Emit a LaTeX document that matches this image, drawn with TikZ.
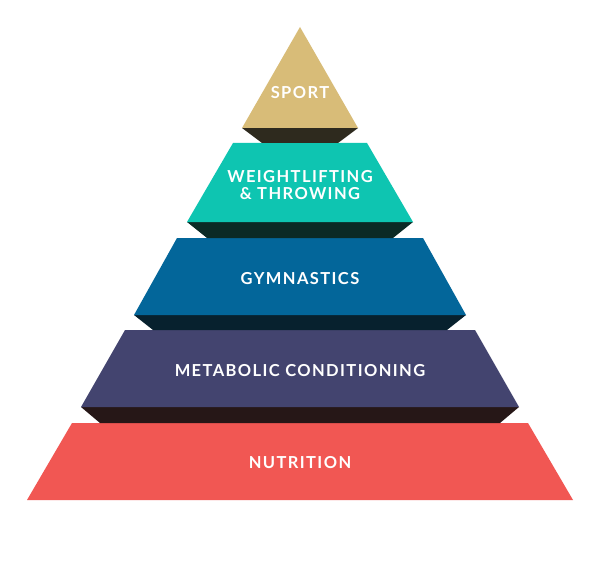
\documentclass[tikz,border=0pt]{standalone}
\usepackage{fontspec}
\setmainfont{Lato}
\newfontfamily\labfont[LetterSpace=8.5]{Lato}
\definecolor{gold}{HTML}{D8BC78}
\definecolor{goldshadow}{HTML}{2E2A1E}
\definecolor{teal}{HTML}{0EC5B1}
\definecolor{tealshadow}{HTML}{0B2A25}
\definecolor{blue}{HTML}{03669A}
\definecolor{blueshadow}{HTML}{07212E}
\definecolor{purple}{HTML}{43446F}
\definecolor{purpleshadow}{HTML}{261717}
\definecolor{red}{HTML}{F15753}
\begin{document}
\begin{tikzpicture}[x=1bp,y=-1bp,
  lab/.style={text=white,font=\labfont\bfseries\fontsize{16.5bp}{17bp}\selectfont,
    inner sep=0pt,anchor=base,align=center}]
\useasboundingbox (0,0) rectangle (600,577);
\fill[white] (0,0) rectangle (600,577);
% level 5: nutrition
\fill[red] (72,423) -- (528,423) -- (573,500) -- (27,500) -- cycle;
% level 4: metabolic conditioning
\fill[purpleshadow] (81,407) -- (519,407) -- (500,423) -- (100,423) -- cycle;
\fill[purple] (125,330) -- (475,330) -- (519,407) -- (81,407) -- cycle;
% level 3: gymnastics
\fill[blueshadow] (134,315) -- (466,315) -- (447,330) -- (153,330) -- cycle;
\fill[blue] (177,238) -- (423,238) -- (466,315) -- (134,315) -- cycle;
% level 2: weightlifting
\fill[tealshadow] (187,222) -- (413,222) -- (393,238) -- (207,238) -- cycle;
\fill[teal] (233,143) -- (367,143) -- (413,222) -- (187,222) -- cycle;
% level 1: sport
\fill[goldshadow] (242,128) -- (358,128) -- (338,143) -- (262,143) -- cycle;
\fill[gold] (300,27) -- (358,128) -- (242,128) -- cycle;
% labels
\node[lab] (sport) at (300,99) {SPORT};
\node[lab] (wl1) at (300,182) {WEIGHTLIFTING};
\node[lab] (wl2) at (300,199) {\&{} THROWING};
\node[lab] (gym) at (300,284) {GYMNASTICS};
\node[lab] (met) at (300,376) {METABOLIC CONDITIONING};
\node[lab] (nut) at (300,468) {NUTRITION};
\end{tikzpicture}
\end{document}
